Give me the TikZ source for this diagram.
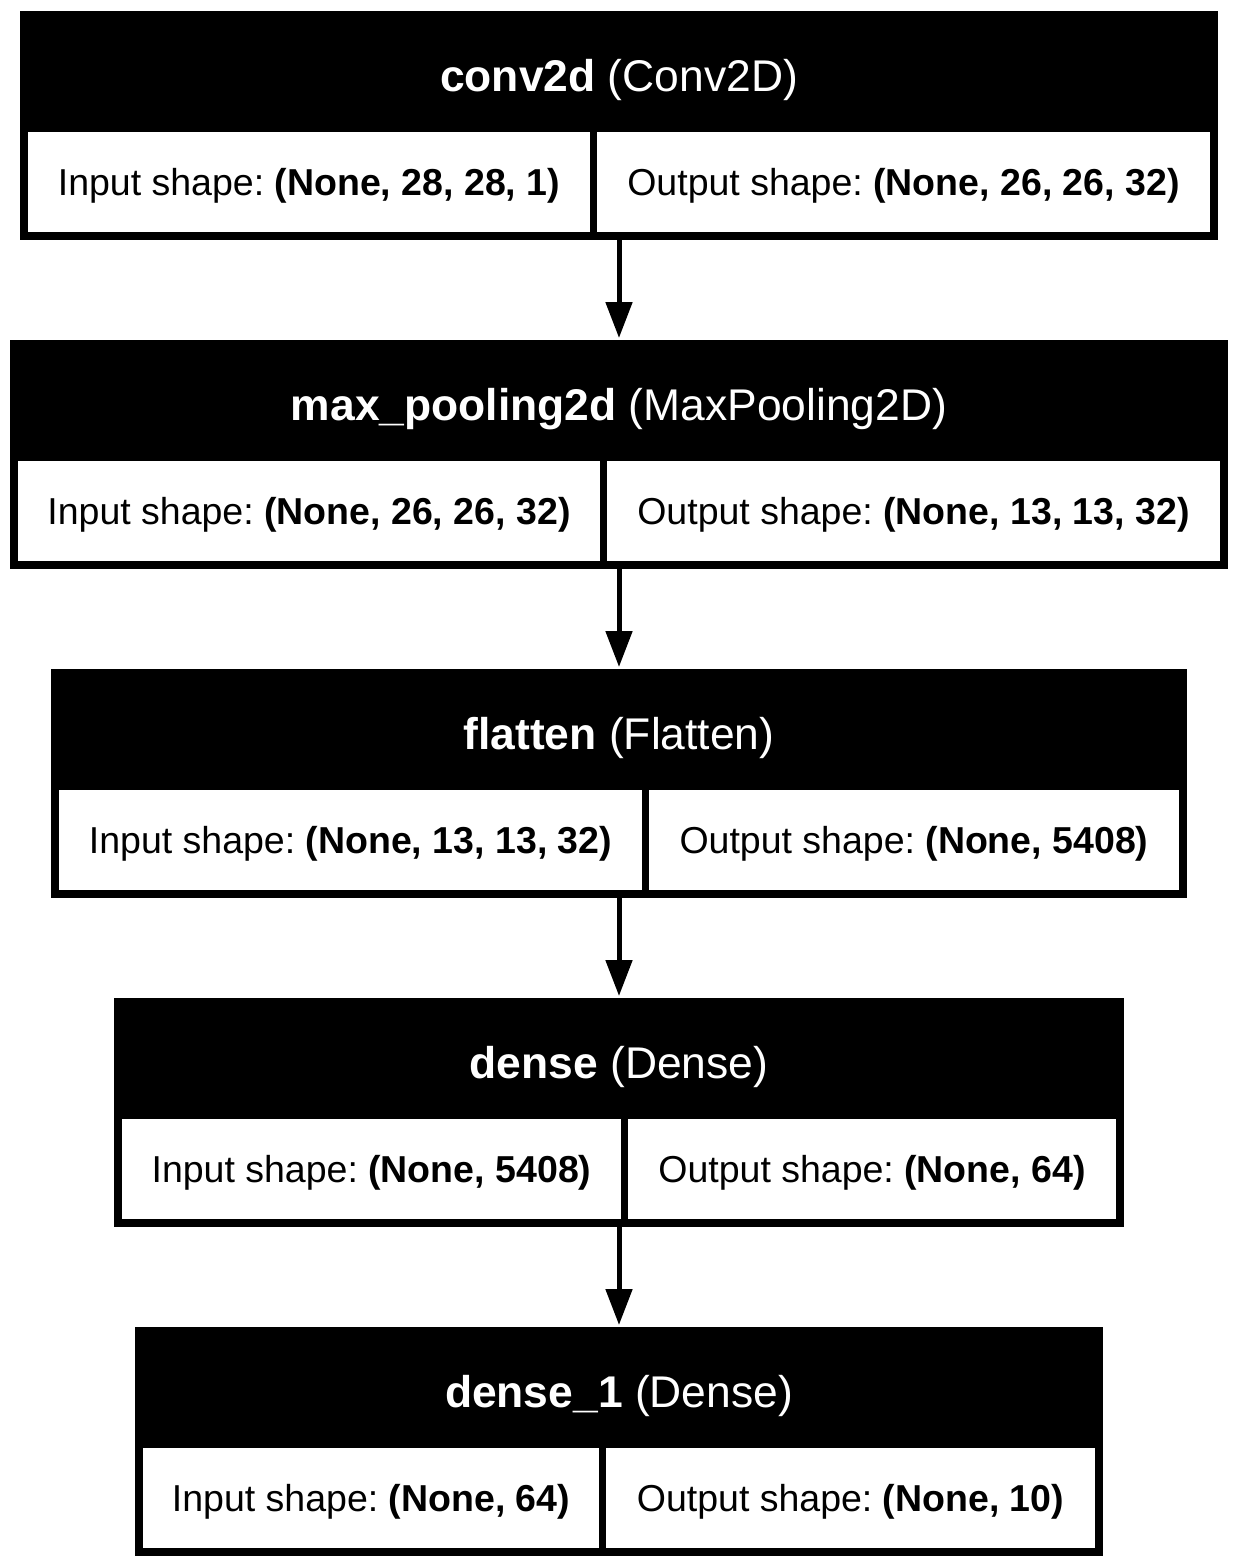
\documentclass[tikz,border=0pt]{standalone}
\usepackage{fontspec}
\setmainfont{Liberation Sans}
\usetikzlibrary{arrows.meta}
\frenchspacing
\tikzset{
  layerbox/.style={fill=black, draw=none, inner sep=0pt, outer sep=0pt, anchor=north west, minimum height=229pt},
  cellbox/.style={fill=white, draw=none, inner sep=0pt, outer sep=0pt, anchor=north west, minimum height=100pt,
    font=\fontsize{37.5}{45}\selectfont\frenchspacing, text height=26.85pt, text depth=0pt},
  titletext/.style={inner sep=0pt, outer sep=0pt, text=white, font=\fontsize{44.4}{52}\selectfont\frenchspacing, text height=31.8pt, text depth=0pt},
  conn/.style={line width=5pt, -{Triangle[length=36pt,width=26pt]}, shorten >=2pt}
}
\newcommand\mylayer[9]{%
  \node[layerbox, minimum width={#3-#2}] (#1) at (#2,#4) {};
  \node[titletext] (#1-title) at ({(#2+#3)/2},{#4+65}) {\textbf{#6} (#7)};
  \node[cellbox, minimum width={#5-#2-8}] (#1-in) at ({#2+8},{#4+121}) {Input shape: \textbf{#8}};
  \node[cellbox, minimum width={#3-#5-15}] (#1-out) at ({#5+7},{#4+121}) {Output shape: \textbf{#9}};
}
\begin{document}
\begin{tikzpicture}[x=1pt,y=-1pt]
\useasboundingbox[fill=white] (0,0) rectangle (1238,1568);
\mylayer{b1}{20}{1218}{11}{590}{conv2d}{Conv2D}{(None, 28, 28, 1)}{(None, 26, 26, 32)}
\mylayer{b2}{10}{1228}{340}{600}{max\_pooling2d}{MaxPooling2D}{(None, 26, 26, 32)}{(None, 13, 13, 32)}
\mylayer{b3}{51}{1187}{669}{642}{flatten}{Flatten}{(None, 13, 13, 32)}{(None, 5408)}
\mylayer{b4}{114}{1124}{998}{621}{dense}{Dense}{(None, 5408)}{(None, 64)}
\mylayer{b5}{135}{1103}{1327}{599}{dense\_1}{Dense}{(None, 64)}{(None, 10)}
\draw[conn] (b1.south) -- (b2.north);
\draw[conn] (b2.south) -- (b3.north);
\draw[conn] (b3.south) -- (b4.north);
\draw[conn] (b4.south) -- (b5.north);
\end{tikzpicture}
\end{document}
